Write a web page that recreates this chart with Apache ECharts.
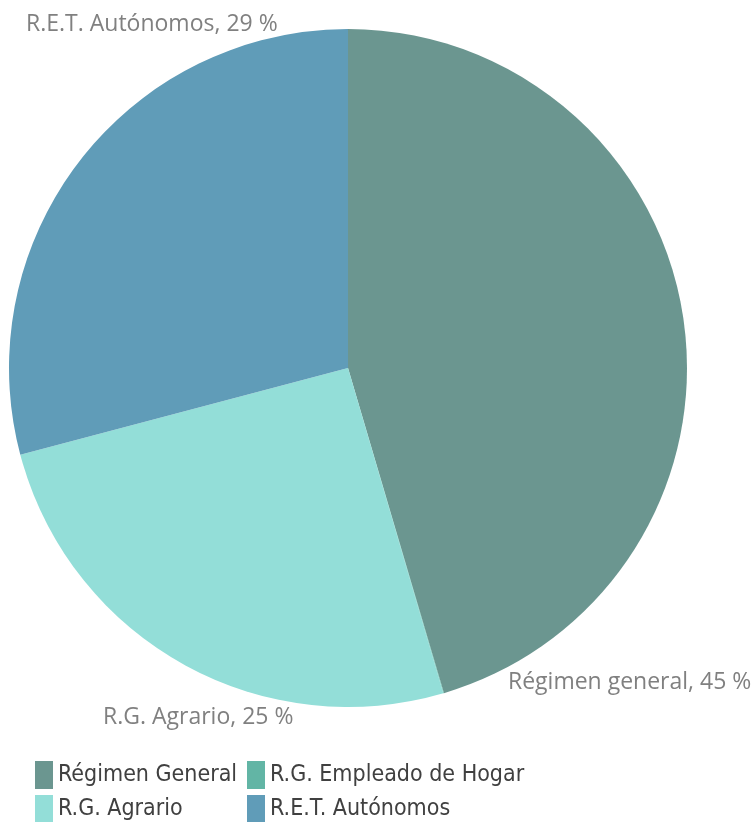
<!DOCTYPE html>
<html>
<head>
<meta charset="utf-8">
<script src="https://cdn.jsdelivr.net/npm/echarts@6/dist/echarts.min.js"></script>
<style>
  html, body { margin: 0; padding: 0; background: #fff; }
  #chart { width: 756px; height: 822px; }
</style>
</head>
<body>
<div id="chart"></div>
<script>
// categories (legend) and slice labels
const categories = ['Régimen General', 'R.G. Empleado de Hogar', 'R.G. Agrario', 'R.E.T. Autónomos'];
const labelNames = ['Régimen general', 'R.G. Empleado de Hogar', 'R.G. Agrario', 'R.E.T. Autónomos'];
// share of each regime, percent
const values = [45.4, 0.03, 25.4, 29.1];
const colors = ['#6b9690', '#62b5a5', '#93ded8', '#609cb8'];

// where the data labels sit (left, middle) - like the original
const labelSpots = [[508, 682], null, [103, 717], [26, 24]];

const chart = echarts.init(document.getElementById('chart'));

const legendText = {
  fontFamily: '"Liberation Sans Narrow", "DejaVu Sans Condensed", sans-serif',
  fontSize: 23,
  color: '#404040'
};

function legendCol(left, names) {
  return {
    orient: 'vertical',
    left: left,
    top: 761,
    height: 120,
    itemWidth: 18,
    itemHeight: 28,
    itemGap: 6,
    icon: 'rect',
    padding: 0,
    textStyle: legendText,
    data: names
  };
}

let option = {
  animation: false,
  color: colors,
  legend: [
    legendCol(35, [categories[0], categories[2]]),
    legendCol(247, [categories[1], categories[3]])
  ],
  series: [
    {
      type: 'pie',
      center: [348, 368],
      radius: 339,
      startAngle: 90,
      clockwise: true,
      avoidLabelOverlap: false,
      label: {
        show: true,
        position: 'outside',
        fontFamily: '"Open Sans", sans-serif',
        fontSize: 23,
        color: '#808080',
        formatter: p => labelNames[p.dataIndex] + ', ' + Math.round(p.percent) + ' %'
      },
      labelLine: { show: false },
      labelLayout: p => {
        const s = labelSpots[p.dataIndex];
        if (!s) return {};
        return { x: s[0], y: s[1], align: 'left', verticalAlign: 'middle' };
      },
      emphasis: { disabled: true },
      data: categories.map((c, i) => ({
        name: c,
        value: values[i],
        label: labelSpots[i] ? {} : { show: false }
      }))
    }
  ]
};

chart.setOption(option);
</script>
</body>
</html>
